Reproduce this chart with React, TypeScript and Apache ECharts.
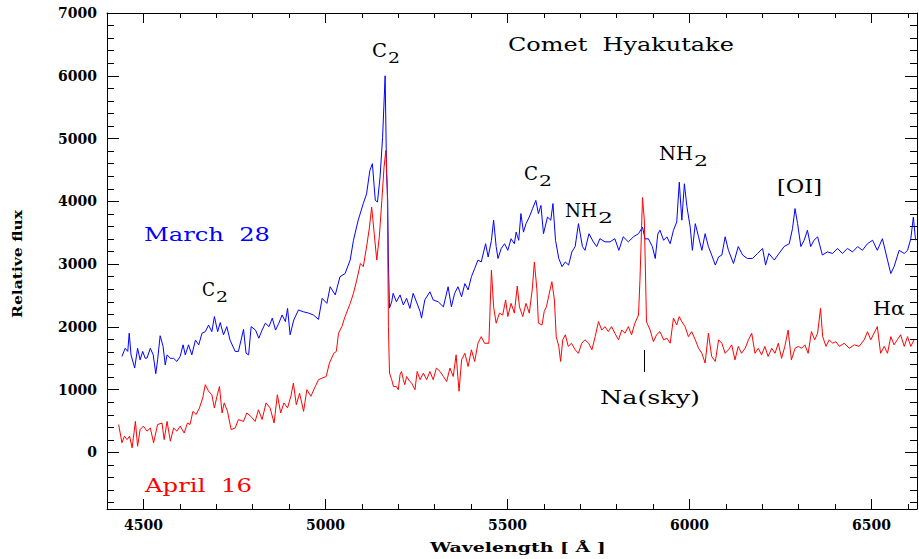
import React, { useEffect, useRef } from "react";
import * as echarts from "echarts";

// ---- data: Comet Hyakutake spectra (wavelength in Å, relative flux) ----
const marchWave = [
  4441, 4450, 4457, 4461, 4466, 4476, 4484, 4491, 4498, 4505, 4510, 4519, 4527, 4534, 4539, 4546, 4554, 4560, 4565, 4574,
  4583, 4592, 4601, 4609, 4615, 4624, 4633, 4643, 4652, 4661, 4670, 4679, 4688, 4695, 4704, 4711, 4720, 4729, 4738, 4752,
  4761, 4775, 4782, 4789, 4796, 4808, 4817, 4826, 4835, 4845, 4854, 4863, 4872, 4881, 4890, 4896, 4903, 4913, 4926, 4940,
  4954, 4967, 4981, 4991, 5004, 5013, 5027, 5040, 5054, 5068, 5077, 5090, 5104, 5113, 5122, 5129, 5137, 5143, 5150, 5157,
  5164, 5168, 5171, 5173, 5176, 5182, 5186, 5195, 5205, 5214, 5223, 5232, 5241, 5250, 5260, 5264, 5273, 5287, 5296, 5310,
  5324, 5337, 5346, 5355, 5364, 5374, 5383, 5392, 5401, 5410, 5419, 5428, 5440, 5447, 5456, 5462, 5469, 5474, 5483, 5492,
  5501, 5510, 5519, 5524, 5531, 5537, 5544, 5551, 5560, 5569, 5578, 5585, 5592, 5599, 5610, 5619, 5625, 5632, 5641, 5650,
  5659, 5668, 5677, 5686, 5695, 5706, 5713, 5724, 5736, 5745, 5754, 5768, 5782, 5795, 5806, 5818, 5832, 5846, 5860, 5871,
  5878, 5887, 5898, 5906, 5913, 5919, 5929, 5938, 5947, 5956, 5965, 5972, 5979, 5986, 5993, 6002, 6008, 6016, 6025, 6034,
  6043, 6052, 6061, 6071, 6080, 6089, 6098, 6107, 6121, 6134, 6146, 6159, 6173, 6187, 6201, 6209, 6218, 6233, 6246, 6260,
  6274, 6283, 6290, 6297, 6306, 6315, 6324, 6333, 6342, 6352, 6365, 6379, 6393, 6407, 6420, 6434, 6448, 6462, 6475, 6489,
  6503, 6516, 6530, 6544, 6553, 6562, 6576, 6590, 6599, 6608, 6615, 6621,
];
const marchFlux = [
  1530, 1660, 1610, 1900, 1555, 1345, 1660, 1475, 1610, 1500, 1505, 1660, 1555, 1255, 1475, 1860, 1690, 1395, 1555, 1500,
  1500, 1450, 1530, 1715, 1555, 1715, 1555, 1790, 1715, 1900, 1925, 2030, 1925, 2165, 1925, 2070, 1875, 2005, 1790, 1610,
  1610, 1960, 1580, 1555, 2005, 1950, 1820, 1950, 2060, 2005, 2140, 1950, 2060, 2190, 2085, 2295, 1875, 2110, 2270, 2240,
  2220, 2190, 2120, 2455, 2375, 2640, 2510, 2800, 2850, 3065, 3380, 3700, 3965, 4120, 4490, 4600, 4015, 3990, 4385, 5020,
  6000, 4440, 4015, 3035, 2300, 2400, 2535, 2400, 2510, 2350, 2455, 2295, 2535, 2400, 2245, 2140, 2430, 2560, 2430, 2400,
  2320, 2640, 2320, 2535, 2640, 2480, 2690, 2590, 2800, 2930, 3065, 3035, 3325, 3115, 3380, 3700, 3280, 3090, 3250, 3325,
  3220, 3405, 3325, 3510, 3380, 3805, 3510, 3645, 3750, 3885, 4015, 3805, 3935, 3485, 3750, 3700, 3965, 3380, 3090, 2960,
  3035, 2985, 3195, 3280, 3645, 3280, 3220, 3485, 3355, 3280, 3405, 3355, 3355, 3405, 3220, 3435, 3355, 3435, 3485, 3590,
  3400, 3405, 3280, 3090, 3480, 3540, 3380, 3435, 3325, 3540, 3670, 4305, 3700, 4280, 3915, 3590, 3220, 3645, 3435, 3220,
  3485, 3280, 3145, 2985, 3115, 3145, 3435, 3220, 3010, 3280, 3145, 3090, 3090, 3170, 3250, 2985, 3170, 3065, 3170, 3280,
  3325, 3565, 3885, 3645, 3280, 3380, 3540, 3280, 3380, 3435, 3145, 3195, 3170, 3250, 3170, 3250, 3195, 3280, 3220, 3325,
  3380, 3220, 3405, 3065, 2850, 2960, 3220, 3170, 3220, 3405, 3750, 3380,
];
const aprilWave = [
  4432, 4441, 4448, 4455, 4462, 4469, 4478, 4484, 4491, 4500, 4510, 4519, 4528, 4539, 4551, 4557, 4565, 4574, 4583, 4592,
  4601, 4612, 4621, 4628, 4636, 4645, 4654, 4663, 4670, 4679, 4688, 4695, 4702, 4709, 4716, 4722, 4731, 4741, 4752, 4761,
  4775, 4784, 4795, 4807, 4816, 4826, 4837, 4848, 4859, 4868, 4877, 4886, 4896, 4905, 4912, 4920, 4929, 4940, 4949, 4960,
  4972, 4981, 4991, 5002, 5011, 5023, 5030, 5036, 5045, 5054, 5068, 5077, 5086, 5096, 5104, 5113, 5121, 5127, 5134, 5141,
  5148, 5155, 5161, 5166, 5170, 5173, 5176, 5182, 5187, 5195, 5200, 5205, 5209, 5214, 5218, 5223, 5232, 5237, 5246, 5252,
  5260, 5269, 5278, 5287, 5296, 5305, 5315, 5324, 5333, 5342, 5351, 5359, 5367, 5374, 5383, 5392, 5401, 5410, 5419, 5428,
  5437, 5449, 5456, 5462, 5469, 5478, 5487, 5495, 5501, 5510, 5519, 5527, 5533, 5542, 5551, 5560, 5568, 5574, 5581, 5585,
  5595, 5601, 5607, 5615, 5622, 5629, 5634, 5641, 5646, 5652, 5659, 5667, 5676, 5686, 5695, 5704, 5713, 5723, 5732, 5741,
  5750, 5759, 5768, 5777, 5786, 5795, 5805, 5814, 5823, 5832, 5841, 5850, 5860, 5864, 5871, 5876, 5882, 5892, 5901, 5910,
  5919, 5929, 5938, 5947, 5956, 5965, 5972, 5979, 5988, 5997, 6006, 6016, 6025, 6034, 6043, 6052, 6061, 6071, 6080, 6089,
  6098, 6107, 6116, 6125, 6134, 6143, 6153, 6162, 6171, 6180, 6189, 6198, 6207, 6216, 6226, 6235, 6244, 6253, 6262, 6271,
  6280, 6290, 6299, 6308, 6317, 6326, 6335, 6344, 6352, 6360, 6366, 6375, 6384, 6393, 6402, 6412, 6425, 6439, 6453, 6466,
  6480, 6489, 6498, 6507, 6516, 6525, 6535, 6544, 6553, 6562, 6571, 6580, 6590, 6599, 6608, 6617,
];
const aprilFlux = [
  445, 155, 260, 205, 260, 75, 495, 100, 365, 420, 340, 390, 155, 445, 470, 205, 495, 180, 390, 340,
  420, 310, 470, 445, 655, 605, 710, 870, 1080, 975, 920, 710, 895, 1050, 630, 790, 655, 365, 390, 525,
  495, 630, 575, 495, 680, 525, 790, 710, 470, 920, 630, 790, 710, 895, 1105, 760, 945, 655, 1000, 895,
  1050, 1160, 1185, 1210, 1425, 1580, 1610, 1900, 2005, 2165, 2375, 2535, 2745, 3010, 2960, 3275, 3590, 3910, 3485, 3065,
  3435, 4015, 4545, 4810, 4225, 2005, 1265, 1160, 1050, 1050, 1000, 1240, 1290, 1160, 1080, 1210, 1130, 1105, 1000, 1290,
  1160, 1265, 1160, 1290, 1160, 1345, 1290, 1210, 1130, 1345, 1210, 1555, 975, 1475, 1580, 1370, 1635, 1450, 1740, 1845,
  1740, 1740, 2905, 2320, 2060, 2220, 2190, 2430, 2165, 2375, 2220, 2650, 2320, 2165, 2375, 2220, 2590, 3035, 2590, 2060,
  2030, 2245, 2320, 2535, 2720, 2430, 1845, 1690, 1450, 1795, 1875, 1690, 1740, 1635, 1580, 1740, 1795, 1740, 1635, 1845,
  2085, 1950, 2005, 1925, 2005, 1900, 1795, 1950, 1900, 2005, 1875, 2060, 2190, 2745, 4060, 3700, 2080, 1950, 1765, 1880,
  1925, 1795, 1820, 1740, 2140, 2030, 2165, 2085, 2005, 1845, 1925, 1795, 1660, 1580, 1425, 1900, 1530, 1450, 1795, 1740,
  1580, 1635, 1715, 1475, 1690, 1580, 1660, 1795, 1900, 1580, 1660, 1555, 1690, 1530, 1660, 1580, 1740, 1500, 1690, 1950,
  1475, 1660, 1690, 1660, 1715, 1580, 1925, 1795, 1900, 2295, 1845, 1690, 1795, 1740, 1765, 1690, 1740, 1660, 1715, 1690,
  1795, 1925, 1795, 1900, 2005, 1580, 1690, 1580, 1845, 1715, 1795, 1875, 1690, 1845, 1690, 1795,
];

// ---- tick positions / labels ----
const xMajorTicks = [4500, 5000, 5500, 6000, 6500];
const xMinorTicks = [
  4500, 4600, 4700, 4800, 4900, 5000, 5100, 5200, 5300, 5400, 5500, 5600, 5700, 5800, 5900, 6000, 6100, 6200, 6300, 6400,
  6500, 6600,
];
const yMajorTicks = [0, 1000, 2000, 3000, 4000, 5000, 6000, 7000];
const yMinorTicks = [
  -800, -600, -400, -200, 0, 200, 400, 600, 800, 1000, 1200, 1400, 1600, 1800, 2000, 2200, 2400, 2600, 2800, 3000, 3200,
  3400, 3600, 3800, 4000, 4200, 4400, 4600, 4800, 5000, 5200, 5400, 5600, 5800, 6000, 6200, 6400, 6600, 6800,
];

const X_MIN = 4400;
const X_MAX = 6625;
const Y_MIN = -900;
const Y_MAX = 7000;

const FONT = '"DejaVu Serif", "Liberation Serif", serif';
const BLACK = "#000000";
const BLUE = "#0000ff";
const RED = "#ff0000";

type Ann = { t: string; l: number; r: number; y: number; s: number; c?: string; w?: string };

const annotations: Ann[] = [
  { t: "Comet  Hyakutake", l: 508, r: 734, y: 45, s: 18 },
  { t: "C", l: 372, r: 387, y: 51, s: 18 },
  { t: "2", l: 388, r: 400, y: 58, s: 14 },
  { t: "C", l: 524, r: 538, y: 174, s: 18 },
  { t: "2", l: 539, r: 552, y: 181, s: 14 },
  { t: "NH", l: 659, r: 693, y: 154, s: 18 },
  { t: "2", l: 694, r: 708, y: 161, s: 14 },
  { t: "NH", l: 565, r: 597, y: 211, s: 18 },
  { t: "2", l: 598, r: 613, y: 218, s: 14 },
  { t: "C", l: 202, r: 215, y: 290, s: 18 },
  { t: "2", l: 216, r: 228, y: 297, s: 14 },
  { t: "[OI]", l: 777, r: 822, y: 187, s: 18 },
  { t: "Hα", l: 873, r: 905, y: 309, s: 18 },
  { t: "Na(sky)", l: 600, r: 700, y: 398, s: 18 },
  { t: "March  28", l: 144, r: 270, y: 234, s: 19, c: BLUE },
  { t: "April  16", l: 145, r: 252, y: 485, s: 19, c: RED },
  { t: "Wavelength [ Å ]", l: 430, r: 606, y: 548, s: 13, w: "bold" },
];

function measure(text: string, font: string): number {
  const cv = document.createElement("canvas");
  const ctx = cv.getContext("2d");
  if (!ctx) return text.length * 10;
  ctx.font = font;
  return ctx.measureText(text).width || text.length * 10;
}

function buildGraphic() {
  const els: any[] = annotations.map((a) => {
    const font = `${a.w || "normal"} ${a.s}px ${FONT}`;
    const w = measure(a.t, font);
    return {
      type: "text",
      x: a.l,
      y: a.y,
      scaleX: (a.r - a.l) / w,
      silent: true,
      style: {
        text: a.t,
        fill: a.c || BLACK,
        font,
        textAlign: "left",
        textVerticalAlign: "middle",
      },
    };
  });
  const yTitle = "Relative flux";
  const yFont = `bold 13px ${FONT}`;
  const yw = measure(yTitle, yFont);
  els.push({
    type: "text",
    x: 17,
    y: 264,
    rotation: Math.PI / 2,
    scaleX: 108 / yw,
    silent: true,
    style: {
      text: yTitle,
      fill: BLACK,
      font: yFont,
      textAlign: "center",
      textVerticalAlign: "middle",
    },
  });
  els.push({
    type: "line",
    silent: true,
    shape: { x1: 644.5, y1: 350, x2: 644.5, y2: 372 },
    style: { stroke: BLACK, lineWidth: 1 },
  });
  return els;
}

const lineStyle = { color: BLACK, width: 1 };
const plain = (v: number) => String(v);

function xAxis(gridIndex: number, position: string, ticks: number[], len: number, line: boolean, labels: boolean) {
  return {
    type: "value",
    gridIndex,
    position,
    min: X_MIN,
    max: X_MAX,
    axisLine: { show: line, onZero: false, lineStyle },
    axisTick: { show: true, inside: true, length: len, customValues: ticks, lineStyle },
    axisLabel: labels
      ? {
          show: true,
          customValues: xMajorTicks,
          formatter: plain,
          margin: 9,
          color: BLACK,
          fontFamily: FONT,
          fontWeight: "bold",
          fontSize: 14,
        }
      : { show: false },
    splitLine: { show: false },
  };
}

function yAxis(gridIndex: number, position: string, ticks: number[], len: number, line: boolean, labels: boolean) {
  return {
    type: "value",
    gridIndex,
    position,
    min: Y_MIN,
    max: Y_MAX,
    axisLine: { show: line, onZero: false, lineStyle },
    axisTick: { show: true, inside: true, length: len, customValues: ticks, lineStyle },
    axisLabel: labels
      ? {
          show: true,
          customValues: yMajorTicks,
          formatter: plain,
          margin: 10,
          color: BLACK,
          fontFamily: FONT,
          fontWeight: "bold",
          fontSize: 14,
        }
      : { show: false },
    splitLine: { show: false },
  };
}

export default function App() {
  const ref = useRef<HTMLDivElement>(null);

  useEffect(() => {
    document.body.style.margin = "0";
    if (!ref.current) return;
    const chart = echarts.init(ref.current, undefined, { renderer: "svg" });
    const gridRect = { left: 107, right: 2, top: 13, bottom: 50, containLabel: false };
    chart.setOption({
      animation: false,
      backgroundColor: "#ffffff",
      grid: [gridRect, { ...gridRect }],
      xAxis: [
        xAxis(0, "bottom", xMajorTicks, 10, true, true),
        xAxis(0, "top", xMajorTicks, 10, true, false),
        xAxis(1, "bottom", xMinorTicks, 5, false, false),
        xAxis(1, "top", xMinorTicks, 5, false, false),
      ],
      yAxis: [
        yAxis(0, "left", yMajorTicks, 12, true, true),
        yAxis(0, "right", yMajorTicks, 12, true, false),
        yAxis(1, "left", yMinorTicks, 7, false, false),
        yAxis(1, "right", yMinorTicks, 7, false, false),
      ],
      series: [
        {
          type: "line",
          name: "March 28",
          xAxisIndex: 0,
          yAxisIndex: 0,
          data: marchWave.map((w, i) => [w, marchFlux[i]]),
          showSymbol: false,
          symbol: "none",
          lineStyle: { color: BLUE, width: 1 },
          itemStyle: { color: BLUE },
          silent: true,
        },
        {
          type: "line",
          name: "April 16",
          xAxisIndex: 0,
          yAxisIndex: 0,
          data: aprilWave.map((w, i) => [w, aprilFlux[i]]),
          showSymbol: false,
          symbol: "none",
          lineStyle: { color: RED, width: 1 },
          itemStyle: { color: RED },
          silent: true,
        },
      ],
      graphic: buildGraphic(),
    });
    return () => {
      chart.dispose();
    };
  }, []);

  return <div ref={ref} style={{ width: 919, height: 559 }} />;
}
